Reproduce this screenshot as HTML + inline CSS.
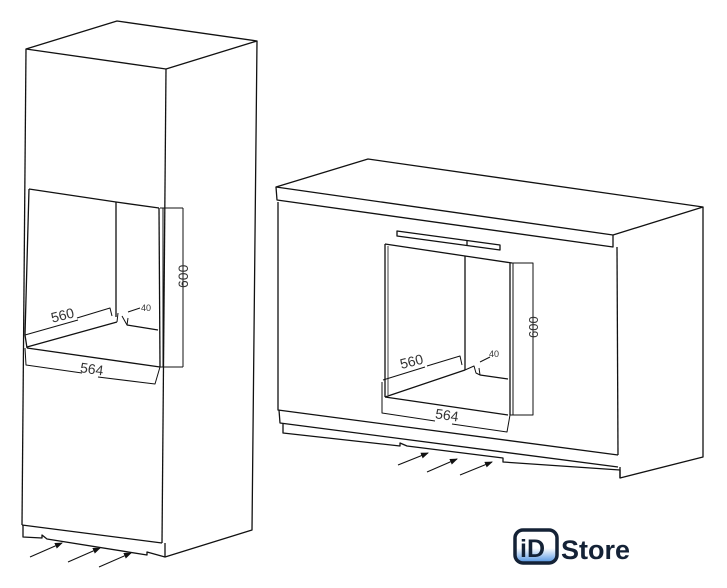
<!DOCTYPE html>
<html><head><style>
html,body{margin:0;padding:0;background:#fff;width:727px;height:588px;overflow:hidden}
svg{display:block}
text{font-family:"Liberation Sans",sans-serif}
</style></head><body>
<svg width="727" height="588" viewBox="0 0 727 588" xmlns="http://www.w3.org/2000/svg">
<defs>
<marker id="ah" markerWidth="8" markerHeight="6" refX="7" refY="3" orient="auto" markerUnits="userSpaceOnUse"><path d="M0,0 L8,3 L0,6 z" fill="#111"/></marker>
<linearGradient id="lg" x1="0" y1="0" x2="0" y2="1"><stop offset="0.55" stop-color="#fff"/><stop offset="1" stop-color="#4a8fe0"/></linearGradient>
</defs>
<g fill="none" stroke="#111" stroke-width="1.3" stroke-linejoin="round">
<path d="M26,49 L117,21 L257,41 L166,69 Z"/>
<path d="M26,49 L22,525"/>
<path d="M166,69 L162,543"/>
<path d="M257,41 L252,530 L165,557"/>
<path d="M22,525 L162,543"/>
<path d="M23,525 L23,537 L42,538 L42,535 L47,539 L147,555 L147,552 L165,557 L165,543"/>
<path d="M29,189 L116,202 L159,208"/>
<path d="M29,189 L25,335 L27,348"/>
<path d="M116,202 L116,317"/>
<path d="M159,208 L160,367"/>
<path d="M163,208 L163,367" stroke-width="1"/>
<path d="M27,348 L160,367"/>
<path d="M27,347 L117,322 M127,325 L158,330"/>
<path d="M117,322 L118,313 M122,316 L127,325 L128,318" stroke-width="1"/>
<g stroke-width="1">
<path d="M25,335 L78,320 M77,318 L110,308 L112,316"/>
<path d="M160,208 L183,208 M183,208 L183,367 M160,367 L183,367"/>
<path d="M25,348 L26,365 L82,373 M98,377 L155,384 L160,367"/>
<path d="M128,312 L140,308"/>
</g>
<path d="M276,187 L368,159 L703,207 L613,235 Z"/>
<path d="M276,187 L277,200 L613,247 L613,235"/>
<path d="M703,207 L703,457 L620,478 L620,467"/>
<path d="M278,202 L278,410 L618,455"/>
<path d="M617,247 L618,455"/>
<path d="M279,410 L280,423 L618,467 M283,423 L283,433 L400,446 L400,443 L407,446 L503,458 L503,462 L620,470 L620,478"/>
<path d="M397,231 L500,245 L500,250 L397,236 Z"/>
<path d="M467,241 L467,246"/>
<path d="M385,244 L465,256 L512,263"/>
<path d="M385,244 L385,397"/>
<path d="M388,246 L388,395" stroke-width="0.8"/>
<path d="M465,256 L465,370"/>
<path d="M510,263 L510,415"/>
<path d="M513,263 L513,415" stroke-width="1"/>
<path d="M385,397 L508,415"/>
<path d="M385,397 L465,370 M480,375 L508,379"/>
<path d="M465,370 L474,366 L476,373 L480,375 L479,368" stroke-width="1"/>
<g stroke-width="1">
<path d="M383,380 L425,367 M427,366 L460,356 L462,365"/>
<path d="M512,263 L533,263 L533,415 L510,415"/>
<path d="M382,382 L382,413 L435,421 M452,424 L507,432 L510,415"/>
<path d="M480,362 L490,357"/>
</g>
<g stroke-width="1.1" marker-end="url(#ah)">
<path d="M30,557 L62,543"/><path d="M68,562 L100,548"/><path d="M99,567 L131,553"/>
<path d="M398,465 L428,453"/><path d="M427,472 L457,459"/><path d="M460,475 L492,462"/>
</g>
</g>
<g fill="#333" font-size="14">
<text x="51" y="320" transform="rotate(-14 63 316)">560</text>
<text x="80" y="374" transform="rotate(8 93 370)">564</text>
<text x="176" y="300" transform="rotate(-90 176 288)">600</text>
<text x="400" y="366" transform="rotate(-14 413 362)">560</text>
<text x="435" y="420" transform="rotate(8 447 417)">564</text>
<text x="526" y="350" font-size="13" transform="rotate(-90 526 338)">600</text>
</g>
<g fill="#333" font-size="9"><text x="141" y="311">40</text><text x="489" y="357">40</text></g>
<rect x="515" y="530" width="42" height="33" rx="8" fill="url(#lg)" stroke="#142236" stroke-width="3.5"/>
<text x="520" y="557" font-size="25" font-weight="bold" fill="#142236">iD</text>
<text x="561" y="559" font-size="27" font-weight="bold" fill="#142236">Store</text>
</svg>
</body></html>
